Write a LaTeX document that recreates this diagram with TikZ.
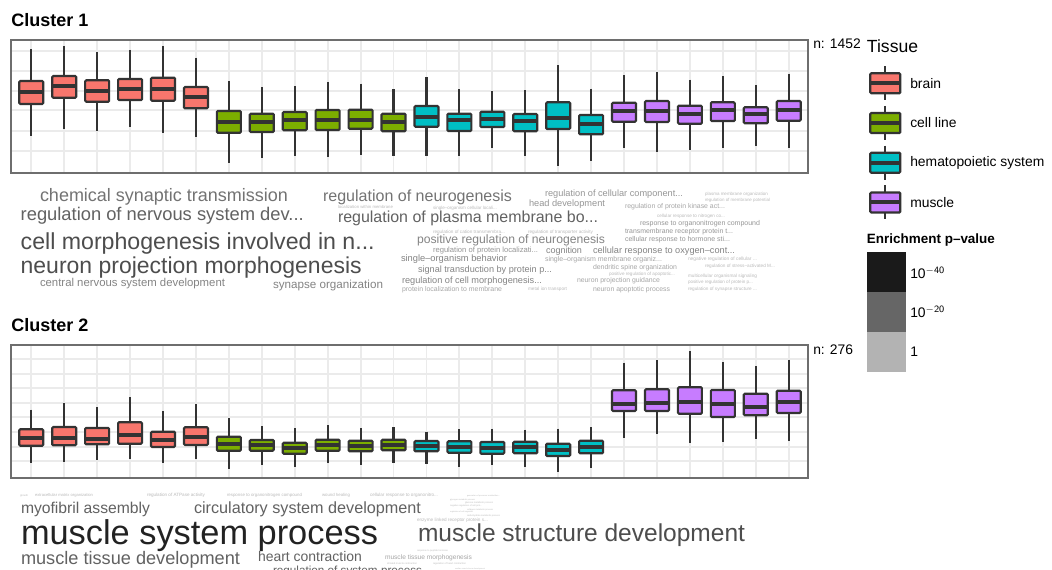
\documentclass[tikz,border=0pt]{standalone}
\usepackage{fontspec}
\setmainfont{Liberation Sans}
\usepackage{graphicx}
\newdimen\pxu \pxu=0.75pt
\definecolor{brain}{HTML}{F8766D}
\definecolor{cellline}{HTML}{7CAE00}
\definecolor{hemat}{HTML}{00BFC4}
\definecolor{muscle}{HTML}{C77CFF}
\definecolor{outl}{HTML}{333333}
\definecolor{gridc}{HTML}{EBEBEB}
\definecolor{framec}{HTML}{6E6E6E}
\definecolor{gA}{HTML}{222222}
\definecolor{gB}{HTML}{4D4D4D}
\definecolor{gC}{HTML}{626262}
\definecolor{gD}{HTML}{737373}
\definecolor{gE}{HTML}{848484}
\definecolor{gF}{HTML}{969696}
\definecolor{gG}{HTML}{A6A6A6}
\definecolor{gH}{HTML}{BBBBBB}
\newcommand{\wcword}[6]{\node[wtext,text=#5] (#1) at (#2,#3) {\resizebox{#4\pxu}{!}{#6\vphantom{hg}}};}
\tikzset{
  wtext/.style={anchor=west,inner sep=0pt,outer sep=0pt,yshift=-1.5pt},
  gridln/.style={draw=gridc,line width=1.4pt},
  frameln/.style={draw=framec,line width=1.6pt},
  whisk/.style={draw=outl,line width=1.6pt},
  boxst/.style={draw=outl,line width=1.6pt,rounded corners=0.8pt},
  medst/.style={draw=outl,line width=3pt},
  ttl/.style={anchor=base west,inner sep=0pt,font=\bfseries\fontsize{13.5}{15}\selectfont},
  lbl/.style={anchor=base west,inner sep=0pt,font=\fontsize{10.4}{12}\selectfont},
}
\begin{document}
\begin{tikzpicture}[x=0.75pt,y=-0.75pt]
\useasboundingbox (0,0) rectangle (1052,570);
\fill[white] (0,0) rectangle (1052,570);

% ---------- titles ----------
\node[ttl] (t1) at (11,26.7) {Cluster 1};
\node[ttl] (t2) at (11,331.7) {Cluster 2};

% ---------- panel 1 ----------
\foreach \yy in {50.7,70.7,91,110.3,130.7,150.7} \draw[gridln] (11,\yy) -- (808,\yy);
\foreach \i in {1,...,24} {\pgfmathsetmacro\xx{31.3+(\i-1)*32.93}\draw[gridln] (\xx,40) -- (\xx,173);}
\foreach \i/\wt/\bt/\md/\bb/\wb/\c in {
1/49.3/81/92/104/136/brain, 2/46/76/86/97.7/128.7/brain, 3/52/80.3/90.7/101.7/131.3/brain,
4/50/79/89/100/126.7/brain, 5/46/77.7/88.7/100.7/132.7/brain, 6/57.7/87/97.3/108.3/136.7/brain,
7/81/111/121.7/132.7/162.7/cellline, 8/87.3/113.7/122.3/132/158.3/cellline, 9/86/112/120/130.3/156/cellline,
10/82/110/120/130/157.3/cellline, 11/83.7/109.7/120/128.7/155/cellline, 12/89.3/113.7/121.7/131.3/156.3/cellline,
13/77.3/106/116.7/126.7/155.7/hemat, 14/89.3/113.7/120/131/155.7/hemat, 15/91/111.7/119.3/127/148/hemat,
16/90.3/114/120.7/131.3/155.7/hemat, 17/65.3/102.3/118.3/129/166.3/hemat, 18/88.7/115/124/134.3/161.3/hemat,
19/75.3/102.7/110.7/121.7/148.3/muscle, 20/72/101/110.7/122/151.7/muscle, 21/79.7/105.7/114/123.7/150/muscle,
22/76.3/102.3/110.3/121/147.7/muscle, 23/85/107.3/113.7/123.3/145.7/muscle, 24/73.7/101/110/120.7/148.3/muscle}{
  \pgfmathsetmacro\xx{31.3+(\i-1)*32.93}
  \draw[whisk] (\xx,\wt) -- (\xx,\wb);
  \draw[boxst,fill=\c] (\xx-12,\bt) rectangle (\xx+12,\bb);
  \draw[medst] (\xx-11.5,\md) -- (\xx+11.5,\md);
}
\draw[frameln] (11,40) rectangle (808,173);
\node[lbl] (n1) at (813,49) {n: 1452};

% ---------- panel 2 ----------
\foreach \yy in {359.3,374.3,388.3,403,417.3,431.7,446.7,461} \draw[gridln] (11,\yy) -- (808,\yy);
\foreach \i in {1,...,24} {\pgfmathsetmacro\xx{31.3+(\i-1)*32.93}\draw[gridln] (\xx,345) -- (\xx,478.3);}
\foreach \i/\wt/\bt/\md/\bb/\wb/\c in {
1/409.7/429.3/438/445.7/462.7/brain, 2/403/427/438.3/445.3/461.7/brain, 3/407.3/428/439.3/444.3/460.3/brain,
4/397.3/422.3/435/443.7/458.7/brain, 5/411.3/431.7/440/447/463.3/brain, 6/404/427.3/437.3/445/458.7/brain,
7/418.3/436.7/444.3/450.7/468.7/cellline, 8/426.3/440/445.3/450.7/464.7/cellline, 9/428/442.7/448.3/453.7/467.3/cellline,
10/425.3/439.7/445/450.7/463.3/cellline, 11/428/440.7/446/451.3/464.7/cellline, 12/427/439.7/445/450.3/463/cellline,
13/431.7/441/446/451.3/464/hemat, 14/429.3/441.3/447/452.7/466.7/hemat, 15/428.7/442/447.7/453.7/464.7/hemat,
16/429.7/441.7/446.7/453.3/466.7/hemat, 17/428.7/443.7/449.7/456/471.7/hemat, 18/427.3/440.7/446.7/453.3/467.7/hemat,
19/362.7/390.3/403.7/411/437.7/muscle, 20/360/389.3/402.7/411/434.3/muscle, 21/351.3/387.3/401.7/413.7/442.7/muscle,
22/362/390/404/417/441.7/muscle, 23/366.3/393.7/406.7/415.3/439.3/muscle, 24/359.7/390.7/402.3/413/440.7/muscle}{
  \pgfmathsetmacro\xx{31.3+(\i-1)*32.93}
  \draw[whisk] (\xx,\wt) -- (\xx,\wb);
  \draw[boxst,fill=\c] (\xx-12,\bt) rectangle (\xx+12,\bb);
  \draw[medst] (\xx-11.5,\md) -- (\xx+11.5,\md);
}
\draw[frameln] (11,345) rectangle (808,478.3);
\node[lbl] (n2) at (813,354) {n: 276};

% ---------- legend: tissue ----------
\node[anchor=base west,inner sep=0pt,font=\fontsize{13.2}{15}\selectfont] (lt) at (866.7,52.7) {Tissue};
\foreach \yc/\c/\nm/\txt in {83.3/brain/k1/brain,123/cellline/k2/cell line,162.7/hemat/k3/hematopoietic system,202.5/muscle/k4/muscle}{
  \draw[whisk] (885.3,\yc-17) -- (885.3,\yc+17);
  \draw[boxst,fill=\c] (870.3,\yc-10) rectangle (900.3,\yc+10);
  \draw[medst] (870.8,\yc) -- (899.8,\yc);
  \node[anchor=west,inner sep=0pt,font=\fontsize{10.4}{12}\selectfont] (\nm) at (910,\yc) {\txt};
}

% ---------- legend: p-value ----------
\node[anchor=base west,inner sep=0pt,font=\bfseries\fontsize{10.1}{12}\selectfont] (lp) at (866.7,243.5) {Enrichment p–value};
\fill[fill={rgb,255:red,26;green,26;blue,26}] (866.7,251.7) rectangle (906,291.7);
\fill[fill={rgb,255:red,102;green,102;blue,102}] (866.7,291.7) rectangle (906,331.7);
\fill[fill={rgb,255:red,179;green,179;blue,179}] (866.7,331.7) rectangle (906,371.7);
\node[lbl] (p1) at (910,278.5) {10$^{\mathsf{-40}}$};
\node[lbl] (p2) at (910,317.5) {10$^{\mathsf{-20}}$};
\node[lbl] (p3) at (910,356) {1};

% ---------- word cloud 1 ----------
\wcword{w1}{40}{195}{248}{gD}{chemical synaptic transmission}
\wcword{w2}{323}{195}{189}{gD}{regulation of neurogenesis}
\wcword{w3}{545}{192}{138}{gF}{regulation of cellular component...}
\wcword{w4}{705}{192}{63}{gH}{plasma membrane organization}
\wcword{w5}{705}{198}{65}{gH}{regulation of membrane potential}
\wcword{w6}{529}{202}{76}{gF}{head development}
\wcword{w7}{625}{205}{100}{gG}{regulation of protein kinase act...}
\wcword{w8}{20.7}{214}{283}{gC}{regulation of nervous system dev...}
\wcword{w9}{338}{205}{55}{gH}{localization within membrane}
\wcword{w10}{433}{206}{64}{gH}{single–organism cellular locali...}
\wcword{w11}{338}{216}{260}{gC}{regulation of plasma membrane bo...}
\wcword{w12}{657}{214}{68}{gH}{cellular response to nitrogen co...}
\wcword{w13}{640}{222}{120}{gF}{response to organonitrogen compound}
\wcword{w14}{433}{230}{72}{gH}{regulation of cation transmembra...}
\wcword{w15}{528}{230}{65}{gH}{regulation of transporter activity}
\wcword{w16}{625}{230}{108}{gF}{transmembrane receptor protein t...}
\wcword{w17}{417}{238}{188}{gE}{positive regulation of neurogenesis}
\wcword{w18}{625}{238}{105}{gF}{cellular response to hormone sti...}
\wcword{w19}{20.7}{242}{354}{gB}{cell morphogenesis involved in n...}
\wcword{w20}{433}{249}{105}{gF}{regulation of protein localizati...}
\wcword{w21}{546}{249}{36}{gE}{cognition}
\wcword{w22}{593}{249}{142}{gE}{cellular response to oxygen–cont...}
\wcword{w23}{401}{257}{106}{gE}{single–organism behavior}
\wcword{w24}{545}{258}{117}{gG}{single–organism membrane organiz...}
\wcword{w25}{688}{257}{69}{gH}{negative regulation of cellular ...}
\wcword{w26}{705}{264}{70}{gH}{regulation of stress–activated M...}
\wcword{w27}{593}{266}{84}{gG}{dendritic spine organization}
\wcword{w28}{418}{268}{134}{gE}{signal transduction by protein p...}
\wcword{w29}{20.7}{266}{341}{gB}{neuron projection morphogenesis}
\wcword{w30}{609}{272}{66}{gH}{positive regulation of apoptotic...}
\wcword{w31}{688}{274}{69}{gH}{multicellular organismal signaling}
\wcword{w32}{402}{279}{140}{gE}{regulation of cell morphogenesis...}
\wcword{w33}{577}{279}{83}{gG}{neuron projection guidance}
\wcword{w34}{688}{280}{65}{gH}{positive regulation of protein p...}
\wcword{w35}{40}{282}{185}{gE}{central nervous system development}
\wcword{w36}{273}{283}{110}{gE}{synapse organization}
\wcword{w37}{402}{288}{100}{gG}{protein localization to membrane}
\wcword{w38}{528}{287}{39}{gH}{metal ion transport}
\wcword{w39}{593}{288}{77}{gG}{neuron apoptotic process}
\wcword{w40}{688}{287}{69}{gH}{regulation of synapse structure ...}

% ---------- word cloud 2 ----------
\wcword{v0}{20}{494}{8}{gH}{growth}
\wcword{v1}{35}{493}{58}{gH}{extracellular matrix organization}
\wcword{v2}{147}{493}{58}{gH}{regulation of ATPase activity}
\wcword{v3}{227}{493}{75}{gH}{response to organonitrogen compound}
\wcword{v4}{322}{493}{28}{gH}{wound healing}
\wcword{v5}{370}{493}{68}{gH}{cellular response to organonitro...}
\wcword{v6}{21}{507}{129}{gC}{myofibril assembly}
\wcword{v7}{194}{507}{227}{gC}{circulatory system development}
\wcword{v8}{21}{534}{357}{gA}{muscle system process}
\wcword{v9}{418}{533}{327}{gB}{muscle structure development}
\wcword{v10}{417}{518}{71}{gH}{enzyme linked receptor protein s...}
\wcword{v11}{21}{558}{219}{gC}{muscle tissue development}
\wcword{v12}{258}{556}{104}{gC}{heart contraction}
\wcword{v13}{273}{569.5}{149}{gC}{regulation of system process}
\wcword{v14}{385}{556}{87}{gG}{muscle tissue morphogenesis}
\wcword{v15}{467}{494}{33}{gH}{generation of precursor metabolites...}
\wcword{v16}{450}{498}{25}{gH}{glycogen metabolic process}
\wcword{v17}{465}{501}{28}{gH}{glucose metabolic process}
\wcword{v18}{450}{504}{32}{gH}{negative regulation of cell prol...}
\wcword{v19}{467}{508}{26}{gH}{collagen metabolic process}
\wcword{v20}{450}{510}{23}{gH}{regulation of cell migration}
\wcword{v21}{467}{514}{33}{gH}{carbohydrate metabolic process}
\wcword{v22}{417}{549}{31}{gH}{response to peptide hormone}
\wcword{v23}{387}{562}{30}{gH}{striated muscle contraction}
\wcword{v24}{433}{562}{33}{gH}{regulation of heart contraction}
\wcword{v25}{455}{567}{30}{gH}{cardiac muscle tissue development}
\end{tikzpicture}
\end{document}
